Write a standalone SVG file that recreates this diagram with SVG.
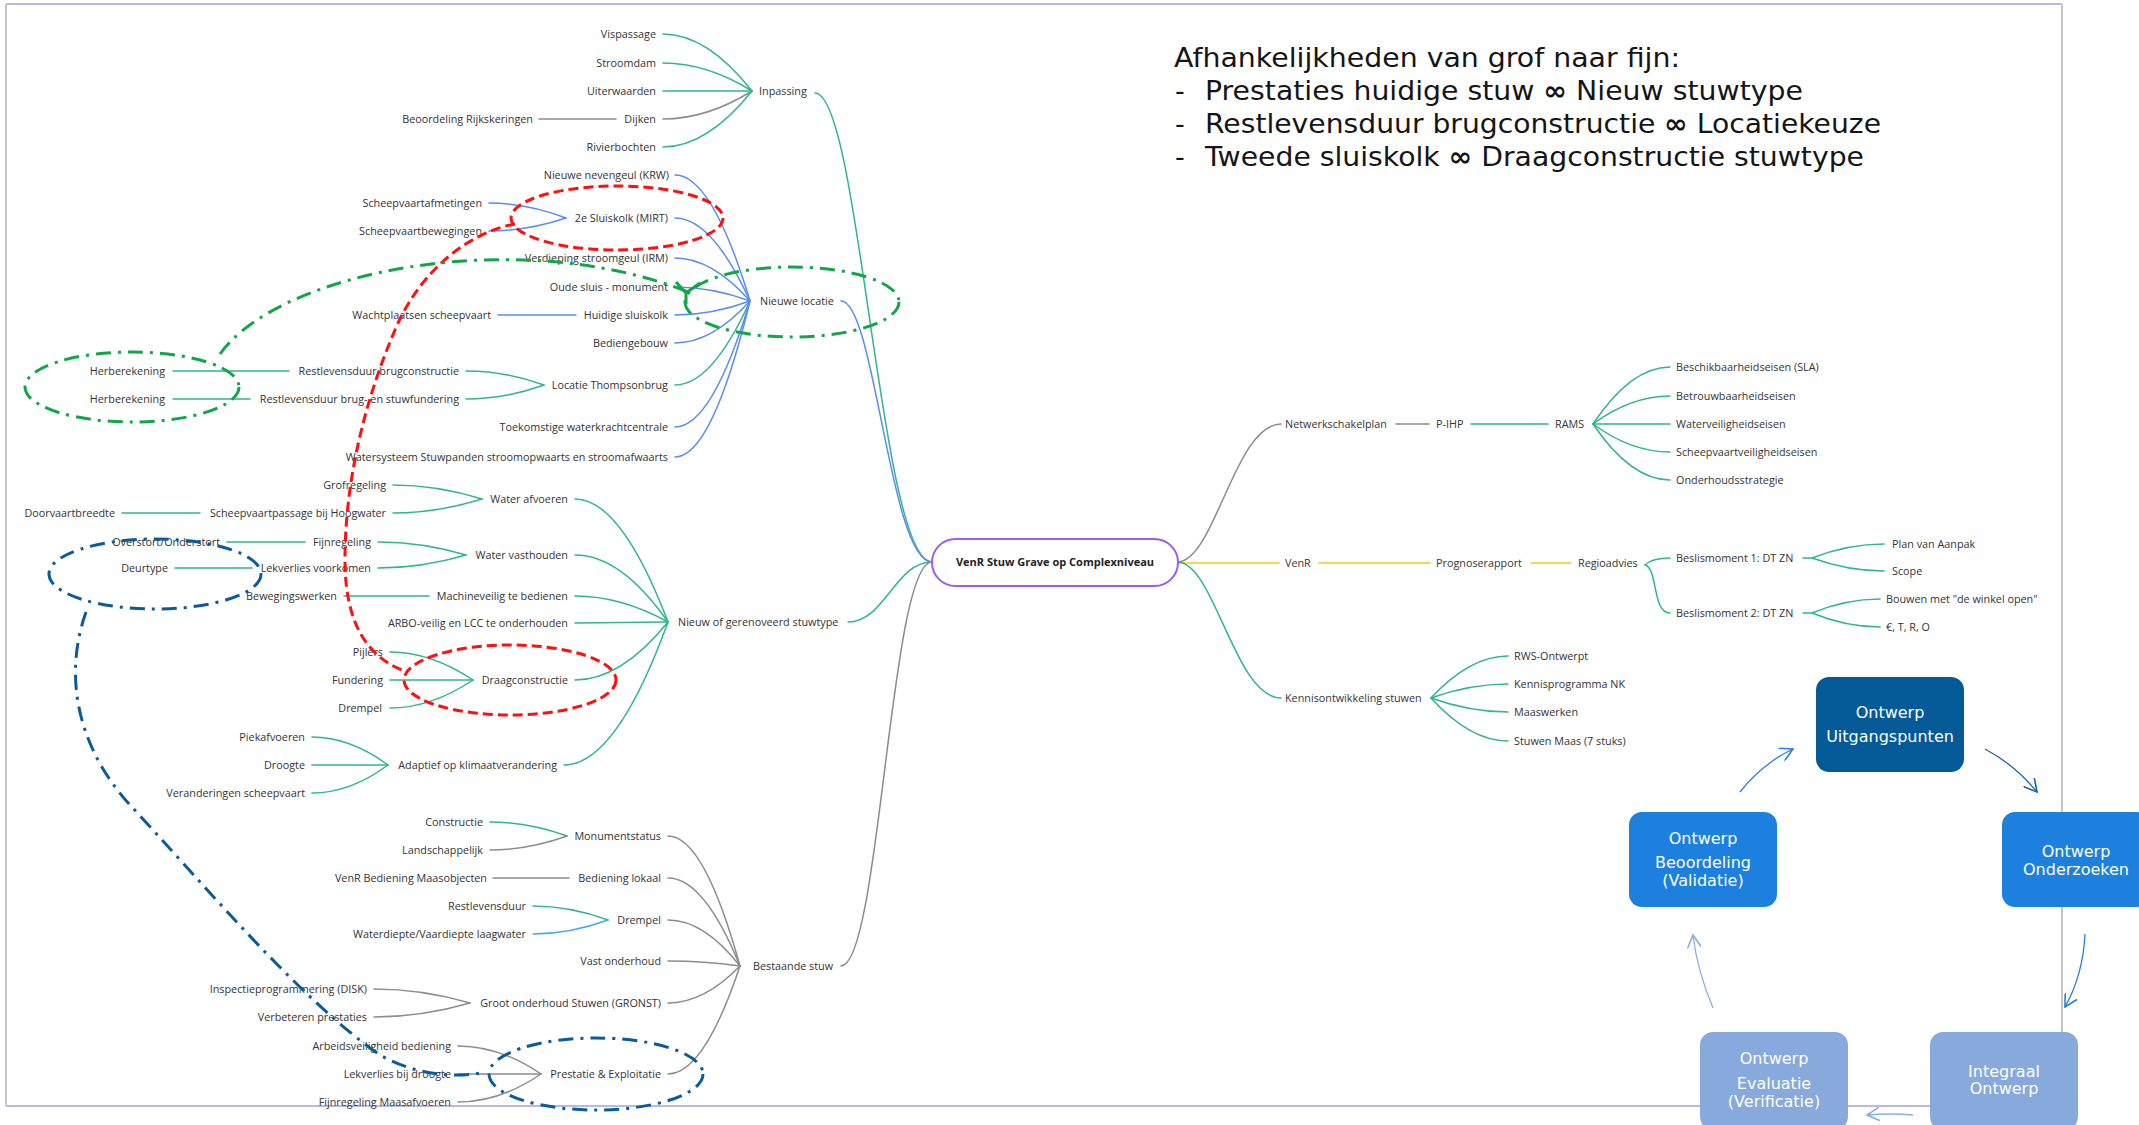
<svg xmlns="http://www.w3.org/2000/svg" width="2139" height="1125" viewBox="0 0 2139 1125">
<style>
.t{font-family:"Open Sans","Liberation Sans",sans-serif;font-size:10.8px;fill:#333}
.e{text-anchor:end}
.c{fill:none;stroke-width:1.5;stroke-linecap:round}
.teal{stroke:#2fb592}.blue{stroke:#5a8cf0}.gray{stroke:#8c8c8c}.yel{stroke:#f6c619}.lb{stroke:#45a6f2}
.bx{font-family:"DejaVu Sans","Liberation Sans",sans-serif;font-size:16px;fill:#fff;text-anchor:middle}
.ttl{font-family:"DejaVu Sans","Liberation Sans",sans-serif;font-size:27px;fill:#151515}
.red{fill:none;stroke:#ff1010;stroke-width:3;stroke-dasharray:10 5}
.grn{fill:none;stroke:#13a54a;stroke-width:3;stroke-dasharray:15 7 3 7}
.dbl{fill:none;stroke:#0b5a9a;stroke-width:3;stroke-dasharray:15 7 3 7}
.arr{fill:none;stroke-width:1.3}
</style>
<defs>
<marker id="ah1" viewBox="0 0 12 12" refX="11" refY="6" markerWidth="14" markerHeight="14" markerUnits="userSpaceOnUse" orient="auto"><path d="M0,0 L11,6 L0,12" fill="none" stroke="#2a7fd6" stroke-width="1.4"/></marker>
<marker id="ah2" viewBox="0 0 12 12" refX="11" refY="6" markerWidth="14" markerHeight="14" markerUnits="userSpaceOnUse" orient="auto"><path d="M0,0 L11,6 L0,12" fill="none" stroke="#1c65ad" stroke-width="1.4"/></marker>
<marker id="ah3" viewBox="0 0 12 12" refX="11" refY="6" markerWidth="14" markerHeight="14" markerUnits="userSpaceOnUse" orient="auto"><path d="M0,0 L11,6 L0,12" fill="none" stroke="#8aaee2" stroke-width="1.4"/></marker>
</defs>
<rect width="2139" height="1125" fill="#fff"/>
<g id="frame">
<line x1="6" y1="4" x2="2062" y2="4" stroke="#b9b9e4" stroke-width="2"/>
<line x1="6" y1="1106" x2="2062" y2="1106" stroke="#b9b9e4" stroke-width="2"/>
<line x1="6" y1="4" x2="6" y2="1106" stroke="#c4c4d8" stroke-width="2"/>
<line x1="2062" y1="4" x2="2062" y2="1106" stroke="#c4c4cc" stroke-width="2"/>
</g>
<g id="connectors">
<path class="c teal" d="M815,93 C860,93 880,562 932,562"/>
<path class="c blue" d="M841,301 C875,301 890,562 932,562"/>
<path class="c teal" d="M848,622 C885,622 895,562 932,562"/>
<path class="c gray" d="M841,966 C880,966 890,562 932,562"/>
<path class="c gray" d="M1178,562 C1215,560 1235,424 1281,424"/>
<path class="c yel" d="M1178,563 L1279,563"/>
<path class="c teal" d="M1178,562 C1215,564 1235,698 1281,698"/>
<path class="c teal" d="M663,34 Q707,34 752,91"/>
<path class="c teal" d="M663,63 Q707,63 752,91"/>
<path class="c teal" d="M663,91 L752,91"/>
<path class="c gray" d="M663,119 Q707,119 752,91"/>
<path class="c teal" d="M663,147 Q707,147 752,91"/>
<path class="c gray" d="M539,119 L616,119"/>
<path class="c blue" d="M675,175 Q712,175 750,301"/>
<path class="c blue" d="M675,218 Q712,218 750,301"/>
<path class="c blue" d="M675,258 Q712,258 750,301"/>
<path class="c blue" d="M675,287 Q712,287 750,301"/>
<path class="c blue" d="M675,315 Q712,315 750,301"/>
<path class="c blue" d="M675,343 Q712,343 750,301"/>
<path class="c teal" d="M675,385 Q712,385 750,301"/>
<path class="c blue" d="M675,427 Q712,427 750,301"/>
<path class="c blue" d="M675,457 Q712,457 750,301"/>
<path class="c blue" d="M489,203 Q527,203 566,218"/>
<path class="c blue" d="M489,231 Q527,231 566,218"/>
<path class="c blue" d="M498,315 L576,315"/>
<path class="c teal" d="M173,371 L289,371"/>
<path class="c teal" d="M173,399 L250,399"/>
<path class="c teal" d="M466,371 Q505,371 544,385"/>
<path class="c teal" d="M466,399 Q505,399 544,385"/>
<path class="c teal" d="M575,499 Q621,499 668,622"/>
<path class="c teal" d="M575,555 Q621,555 668,622"/>
<path class="c teal" d="M575,596 Q621,596 668,622"/>
<path class="c teal" d="M575,623 L668,622"/>
<path class="c teal" d="M575,680 Q621,680 668,622"/>
<path class="c teal" d="M564,765 Q616,765 668,622"/>
<path class="c teal" d="M393,485 Q437,485 482,499"/>
<path class="c teal" d="M393,513 Q437,513 482,499"/>
<path class="c teal" d="M122,513 L200,513"/>
<path class="c teal" d="M378,542 Q422,542 466,555"/>
<path class="c teal" d="M378,568 Q422,568 466,555"/>
<path class="c teal" d="M227,542 L305,542"/>
<path class="c teal" d="M175,568 L252,568"/>
<path class="c teal" d="M344,596 L429,596"/>
<path class="c teal" d="M390,652 Q431,652 473,680"/>
<path class="c teal" d="M390,680 L473,680"/>
<path class="c teal" d="M390,708 Q431,708 473,680"/>
<path class="c teal" d="M312,737 Q350,737 388,765"/>
<path class="c teal" d="M312,765 L388,765"/>
<path class="c teal" d="M312,793 Q350,793 388,765"/>
<path class="c gray" d="M668,836 Q704,836 740,966"/>
<path class="c gray" d="M668,878 Q704,878 740,966"/>
<path class="c gray" d="M668,920 Q704,920 740,966"/>
<path class="c gray" d="M668,961 Q704,961 740,966"/>
<path class="c gray" d="M668,1003 Q704,1003 740,966"/>
<path class="c gray" d="M668,1074 Q704,1074 740,966"/>
<path class="c teal" d="M490,822 Q528,822 567,836"/>
<path class="c gray" d="M490,850 Q528,850 567,836"/>
<path class="c gray" d="M493,878 L569,878"/>
<path class="c teal" d="M533,906 Q570,906 608,920"/>
<path class="c lb" d="M533,934 Q570,934 608,920"/>
<path class="c gray" d="M374,989 Q422,989 470,1003"/>
<path class="c gray" d="M374,1017 Q422,1017 470,1003"/>
<path class="c gray" d="M458,1046 Q500,1046 541,1074"/>
<path class="c gray" d="M458,1074 L541,1074"/>
<path class="c gray" d="M458,1102 Q500,1102 541,1074"/>
<path class="c gray" d="M1396,424 L1429,424"/>
<path class="c teal" d="M1471,424 L1548,424"/>
<path class="c teal" d="M1593,424 Q1631,367 1670,367"/>
<path class="c teal" d="M1593,424 Q1631,396 1670,396"/>
<path class="c teal" d="M1593,424 L1670,424"/>
<path class="c teal" d="M1593,424 Q1631,452 1670,452"/>
<path class="c teal" d="M1593,424 Q1631,480 1670,480"/>
<path class="c yel" d="M1319,563 L1430,563"/>
<path class="c yel" d="M1531,563 L1571,563"/>
<path class="c teal" d="M1645,565 Q1652,558 1670,558"/>
<path class="c teal" d="M1645,565 C1658,568 1652,613 1670,613"/>
<path class="c teal" d="M1803,558 L1812,558 Q1848,544 1884,544"/>
<path class="c teal" d="M1812,558 Q1848,571 1884,571"/>
<path class="c teal" d="M1803,613 L1812,613 Q1846,599 1880,599"/>
<path class="c teal" d="M1812,613 Q1846,627 1880,627"/>
<path class="c teal" d="M1431,698 Q1470,656 1508,656"/>
<path class="c teal" d="M1431,698 Q1470,684 1508,684"/>
<path class="c teal" d="M1431,698 Q1470,712 1508,712"/>
<path class="c teal" d="M1431,698 Q1470,741 1508,741"/>
</g>
<g id="center"><rect x="932" y="539" width="246" height="47" rx="23.5" fill="#fff" stroke="#9a5cf2" stroke-width="2"/><text x="1055" y="566" text-anchor="middle" style="font-family:'Open Sans','Liberation Sans',sans-serif;font-size:11px;font-weight:bold;fill:#222">VenR Stuw Grave op Complexniveau</text></g>
<g id="n-inpassing"><text class="t" x="759" y="95">Inpassing</text></g>
<g id="n-vispassage"><text class="t e" x="656" y="38">Vispassage</text></g>
<g id="n-stroomdam"><text class="t e" x="656" y="67">Stroomdam</text></g>
<g id="n-uiterwaarden"><text class="t e" x="656" y="95">Uiterwaarden</text></g>
<g id="n-dijken"><text class="t e" x="656" y="123">Dijken</text></g>
<g id="n-rivierbochten"><text class="t e" x="656" y="151">Rivierbochten</text></g>
<g id="n-beoordeling-rijkskeringen"><text class="t e" x="533" y="123">Beoordeling Rijkskeringen</text></g>
<g id="n-nieuwe-locatie"><text class="t" x="760" y="305">Nieuwe locatie</text></g>
<g id="n-nevengeul"><text class="t e" x="669" y="179">Nieuwe nevengeul (KRW)</text></g>
<g id="n-sluiskolk2"><text class="t e" x="668" y="222">2e Sluiskolk (MIRT)</text></g>
<g id="n-verdieping"><text class="t e" x="668" y="262">Verdieping stroomgeul (IRM)</text></g>
<g id="n-oude-sluis"><text class="t e" x="668" y="291">Oude sluis - monument</text></g>
<g id="n-huidige-sluiskolk"><text class="t e" x="668" y="319">Huidige sluiskolk</text></g>
<g id="n-bediengebouw"><text class="t e" x="668" y="347">Bediengebouw</text></g>
<g id="n-locatie-thompsonbrug"><text class="t e" x="668" y="389">Locatie Thompsonbrug</text></g>
<g id="n-waterkrachtcentrale"><text class="t e" x="668" y="431">Toekomstige waterkrachtcentrale</text></g>
<g id="n-watersysteem"><text class="t e" x="668" y="461">Watersysteem Stuwpanden stroomopwaarts en stroomafwaarts</text></g>
<g id="n-scheepvaartafmetingen"><text class="t e" x="482" y="207">Scheepvaartafmetingen</text></g>
<g id="n-scheepvaartbewegingen"><text class="t e" x="482" y="235">Scheepvaartbewegingen</text></g>
<g id="n-wachtplaatsen"><text class="t e" x="491" y="319">Wachtplaatsen scheepvaart</text></g>
<g id="n-herberekening-1"><text class="t e" x="165" y="375">Herberekening</text></g>
<g id="n-restlevensduur-brug"><text class="t e" x="459" y="375">Restlevensduur brugconstructie</text></g>
<g id="n-herberekening-2"><text class="t e" x="165" y="403">Herberekening</text></g>
<g id="n-restlevensduur-fundering"><text class="t e" x="459" y="403">Restlevensduur brug- en stuwfundering</text></g>
<g id="n-nieuw-stuwtype"><text class="t" x="678" y="626">Nieuw of gerenoveerd stuwtype</text></g>
<g id="n-water-afvoeren"><text class="t e" x="568" y="503">Water afvoeren</text></g>
<g id="n-grofregeling"><text class="t e" x="386" y="489">Grofregeling</text></g>
<g id="n-scheepvaartpassage"><text class="t e" x="386" y="517">Scheepvaartpassage bij Hoogwater</text></g>
<g id="n-doorvaartbreedte"><text class="t e" x="115" y="517">Doorvaartbreedte</text></g>
<g id="n-water-vasthouden"><text class="t e" x="568" y="559">Water vasthouden</text></g>
<g id="n-fijnregeling"><text class="t e" x="371" y="546">Fijnregeling</text></g>
<g id="n-lekverlies-voorkomen"><text class="t e" x="371" y="572">Lekverlies voorkomen</text></g>
<g id="n-overstort"><text class="t e" x="220" y="546">Overstort/Onderstort</text></g>
<g id="n-deurtype"><text class="t e" x="168" y="572">Deurtype</text></g>
<g id="n-machineveilig"><text class="t e" x="568" y="600">Machineveilig te bedienen</text></g>
<g id="n-bewegingswerken"><text class="t e" x="337" y="600">Bewegingswerken</text></g>
<g id="n-arbo"><text class="t e" x="568" y="627">ARBO-veilig en LCC te onderhouden</text></g>
<g id="n-draagconstructie"><text class="t e" x="568" y="684">Draagconstructie</text></g>
<g id="n-pijlers"><text class="t e" x="383" y="656">Pijlers</text></g>
<g id="n-fundering"><text class="t e" x="383" y="684">Fundering</text></g>
<g id="n-drempel-nieuw"><text class="t e" x="382" y="712">Drempel</text></g>
<g id="n-adaptief"><text class="t e" x="557" y="769">Adaptief op klimaatverandering</text></g>
<g id="n-piekafvoeren"><text class="t e" x="305" y="741">Piekafvoeren</text></g>
<g id="n-droogte"><text class="t e" x="305" y="769">Droogte</text></g>
<g id="n-veranderingen"><text class="t e" x="305" y="797">Veranderingen scheepvaart</text></g>
<g id="n-bestaande-stuw"><text class="t" x="753" y="970">Bestaande stuw</text></g>
<g id="n-monumentstatus"><text class="t e" x="661" y="840">Monumentstatus</text></g>
<g id="n-constructie"><text class="t e" x="483" y="826">Constructie</text></g>
<g id="n-landschappelijk"><text class="t e" x="483" y="854">Landschappelijk</text></g>
<g id="n-bediening-lokaal"><text class="t e" x="661" y="882">Bediening lokaal</text></g>
<g id="n-venr-bediening"><text class="t e" x="487" y="882">VenR Bediening Maasobjecten</text></g>
<g id="n-drempel-bestaand"><text class="t e" x="661" y="924">Drempel</text></g>
<g id="n-restlevensduur"><text class="t e" x="526" y="910">Restlevensduur</text></g>
<g id="n-waterdiepte"><text class="t e" x="526" y="938">Waterdiepte/Vaardiepte laagwater</text></g>
<g id="n-vast-onderhoud"><text class="t e" x="661" y="965">Vast onderhoud</text></g>
<g id="n-groot-onderhoud"><text class="t e" x="661" y="1007">Groot onderhoud Stuwen (GRONST)</text></g>
<g id="n-inspectie"><text class="t e" x="367" y="993">Inspectieprogrammering (DISK)</text></g>
<g id="n-verbeteren"><text class="t e" x="367" y="1021">Verbeteren prestaties</text></g>
<g id="n-prestatie"><text class="t e" x="661" y="1078">Prestatie &amp; Exploitatie</text></g>
<g id="n-arbeidsveiligheid"><text class="t e" x="451" y="1050">Arbeidsveiligheid bediening</text></g>
<g id="n-lekverlies-droogte"><text class="t e" x="451" y="1078">Lekverlies bij droogte</text></g>
<g id="n-fijnregeling-maas"><text class="t e" x="451" y="1106">Fijnregeling Maasafvoeren</text></g>
<g id="n-netwerkschakelplan"><text class="t" x="1285" y="428">Netwerkschakelplan</text></g>
<g id="n-p-ihp"><text class="t" x="1436" y="428">P-IHP</text></g>
<g id="n-rams"><text class="t" x="1555" y="428">RAMS</text></g>
<g id="n-sla"><text class="t" x="1676" y="371">Beschikbaarheidseisen (SLA)</text></g>
<g id="n-betrouwbaarheid"><text class="t" x="1676" y="400">Betrouwbaarheidseisen</text></g>
<g id="n-waterveiligheid"><text class="t" x="1676" y="428">Waterveiligheidseisen</text></g>
<g id="n-scheepvaartveiligheid"><text class="t" x="1676" y="456">Scheepvaartveiligheidseisen</text></g>
<g id="n-onderhoudsstrategie"><text class="t" x="1676" y="484">Onderhoudsstrategie</text></g>
<g id="n-venr"><text class="t" x="1285" y="567">VenR</text></g>
<g id="n-prognoserapport"><text class="t" x="1436" y="567">Prognoserapport</text></g>
<g id="n-regioadvies"><text class="t" x="1578" y="567">Regioadvies</text></g>
<g id="n-beslismoment-1"><text class="t" x="1676" y="562">Beslismoment 1: DT ZN</text></g>
<g id="n-beslismoment-2"><text class="t" x="1676" y="617">Beslismoment 2: DT ZN</text></g>
<g id="n-plan-van-aanpak"><text class="t" x="1892" y="548">Plan van Aanpak</text></g>
<g id="n-scope"><text class="t" x="1892" y="575">Scope</text></g>
<g id="n-bouwen"><text class="t" x="1886" y="603">Bouwen met "de winkel open"</text></g>
<g id="n-etro"><text class="t" x="1886" y="631">€, T, R, O</text></g>
<g id="n-kennisontwikkeling"><text class="t" x="1285" y="702">Kennisontwikkeling stuwen</text></g>
<g id="n-rws"><text class="t" x="1514" y="660">RWS-Ontwerpt</text></g>
<g id="n-kennisprogramma"><text class="t" x="1514" y="688">Kennisprogramma NK</text></g>
<g id="n-maaswerken"><text class="t" x="1514" y="716">Maaswerken</text></g>
<g id="n-stuwen-maas"><text class="t" x="1514" y="745">Stuwen Maas (7 stuks)</text></g>
<g id="annotations">
<ellipse class="red" cx="617" cy="218" rx="106" ry="32"/>
<ellipse class="red" cx="510" cy="680" rx="106" ry="35"/>
<path class="red" d="M515,224 C470,232 420,270 395,330 C365,400 345,480 345,560 C345,620 365,655 402,670"/>
<ellipse class="grn" cx="792" cy="302" rx="107" ry="35"/>
<ellipse class="grn" cx="132" cy="387" rx="107" ry="35"/>
<path class="grn" d="M220,354 C280,270 520,225 688,292"/>
<path d="M676,282 L686,293 L700,283 M686,293 L686,304" fill="none" stroke="#13a54a" stroke-width="3"/>
<ellipse class="dbl" cx="155" cy="574" rx="106" ry="35"/>
<ellipse class="dbl" cx="596" cy="1074" rx="107" ry="36"/>
<path class="dbl" d="M86,612 C62,680 80,750 130,805 C200,880 300,1000 380,1055 C410,1072 450,1080 485,1072"/>
</g>
<g id="title">
<text class="ttl" x="1174" y="67" textLength="506" lengthAdjust="spacingAndGlyphs">Afhankelijkheden van grof naar fijn:</text>
<text class="ttl" x="1175" y="100">-</text>
<text class="ttl" x="1205" y="100" textLength="598" lengthAdjust="spacingAndGlyphs">Prestaties huidige stuw <tspan font-weight="bold">∞</tspan> Nieuw stuwtype</text>
<text class="ttl" x="1175" y="133">-</text>
<text class="ttl" x="1205" y="133" textLength="676" lengthAdjust="spacingAndGlyphs">Restlevensduur brugconstructie <tspan font-weight="bold">∞</tspan> Locatiekeuze</text>
<text class="ttl" x="1175" y="166">-</text>
<text class="ttl" x="1205" y="166" textLength="659" lengthAdjust="spacingAndGlyphs">Tweede sluiskolk <tspan font-weight="bold">∞</tspan> Draagconstructie stuwtype</text>
</g>
<g id="cycle-arrows">
<path class="arr" stroke="#2a7fd6" d="M1740,792 Q1762,764 1793,749" marker-end="url(#ah1)"/>
<path class="arr" stroke="#1c65ad" d="M1985,749 Q2015,765 2037,792" marker-end="url(#ah2)"/>
<path class="arr" stroke="#2a7fd6" d="M2085,934 Q2083,975 2065,1007" marker-end="url(#ah1)"/>
<path class="arr" stroke="#8aaee2" d="M1913,1115 Q1890,1113 1867,1115" marker-end="url(#ah3)"/>
<path class="arr" stroke="#8aaee2" d="M1713,1008 Q1697,970 1693,935" marker-end="url(#ah3)"/>
</g>
<g id="b-uitgangspunten"><rect x="1816" y="677" width="148" height="95" rx="13" fill="#035a97"/><text class="bx" x="1890" y="718">Ontwerp</text><text class="bx" x="1890" y="742">Uitgangspunten</text></g>
<g id="b-onderzoeken"><rect x="2002" y="812" width="148" height="95" rx="13" fill="#1e80de"/><text class="bx" x="2076" y="857">Ontwerp</text><text class="bx" x="2076" y="875">Onderzoeken</text></g>
<g id="b-beoordeling"><rect x="1629" y="812" width="148" height="95" rx="13" fill="#1e80de"/><text class="bx" x="1703" y="844">Ontwerp</text><text class="bx" x="1703" y="868">Beoordeling</text><text class="bx" x="1703" y="886">(Validatie)</text></g>
<g id="b-integraal"><rect x="1930" y="1032" width="148" height="98" rx="13" fill="#87a9db"/><text class="bx" x="2004" y="1077">Integraal</text><text class="bx" x="2004" y="1094">Ontwerp</text></g>
<g id="b-evaluatie"><rect x="1700" y="1032" width="148" height="98" rx="13" fill="#87a9db"/><text class="bx" x="1774" y="1064">Ontwerp</text><text class="bx" x="1774" y="1089">Evaluatie</text><text class="bx" x="1774" y="1107">(Verificatie)</text></g>
</svg>
